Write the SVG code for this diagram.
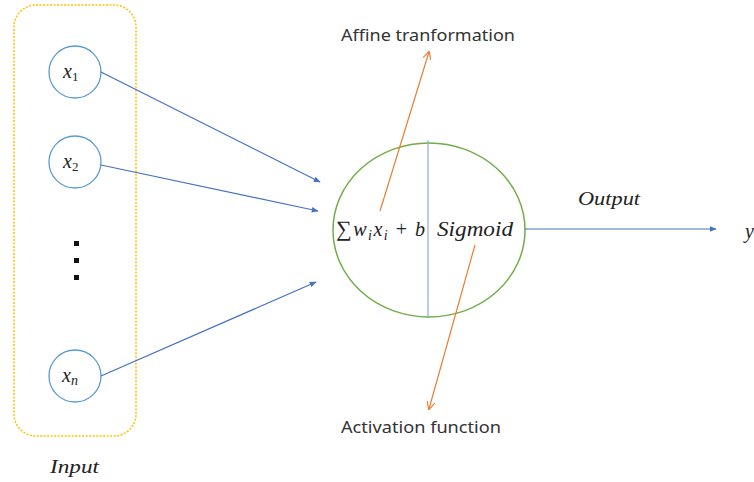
<svg xmlns="http://www.w3.org/2000/svg" width="754" height="482" viewBox="0 0 754 482">
<defs>
<marker id="ab" viewBox="0 0 10 10" refX="9" refY="5" markerWidth="7" markerHeight="7" markerUnits="userSpaceOnUse" orient="auto"><path d="M0,1 L10,5 L0,9 z" fill="#4472C4"/></marker>
<marker id="ao" viewBox="0 0 10 10" refX="9" refY="5" markerWidth="8" markerHeight="8" markerUnits="userSpaceOnUse" orient="auto"><path d="M0,0 L10,5 L0,10" fill="none" stroke="#ED7D31" stroke-width="1.5"/></marker>
<style>
.in{fill:#fff;stroke:#5B9BD5;stroke-width:1.3}
.m{font-family:"Liberation Serif",serif;font-style:italic;fill:#222}
.s{font-family:"Noto Sans","Liberation Sans",sans-serif;fill:#333;font-size:17px}
.bl{stroke:#4472C4;stroke-width:1.2;fill:none}
.or{stroke:#ED7D31;stroke-width:1.2;fill:none}
</style>
</defs>
<g id="input-box">
<rect x="14" y="5" width="122" height="431" rx="22" fill="none" stroke="#FFC000" stroke-width="1.5" stroke-dasharray="2,1.5"/>
<text class="m" x="50" y="473" font-size="18" textLength="49" lengthAdjust="spacingAndGlyphs">Input</text>
</g>
<g id="x1"><ellipse class="in" cx="75" cy="72" rx="26" ry="26"/><text class="m" x="63" y="78" font-size="20">x<tspan font-size="13" dy="3" font-style="normal">1</tspan></text></g>
<g id="x2"><ellipse class="in" cx="75" cy="162" rx="26" ry="26"/><text class="m" x="63" y="168" font-size="20">x<tspan font-size="13" dy="3" font-style="normal">2</tspan></text></g>
<g id="dots"><rect x="74" y="241" width="5" height="5" fill="#111"/><rect x="74" y="258" width="5" height="5" fill="#111"/><rect x="74" y="275" width="5" height="5" fill="#111"/></g>
<g id="xn"><ellipse class="in" cx="75" cy="376" rx="26" ry="26"/><text class="m" x="62" y="382" font-size="20">x<tspan font-size="14" dy="3">n</tspan></text></g>
<g id="neuron">
<ellipse cx="429" cy="230" rx="96" ry="87" fill="#fff" stroke="#70AD47" stroke-width="1.5"/>
<line x1="428" y1="140" x2="428" y2="318" stroke="#8FAADC" stroke-width="1.2"/>
<text class="m" x="336" y="236" font-size="20" textLength="89"><tspan font-style="normal" font-size="22">∑</tspan>w<tspan font-size="14" dy="4">i</tspan><tspan dy="-4">x</tspan><tspan font-size="14" dy="4">i</tspan><tspan dy="-4" font-style="normal"> + </tspan>b</text>
<text class="m" x="437" y="236" font-size="20" textLength="76" lengthAdjust="spacingAndGlyphs">Sigmoid</text>
</g>
<g id="labels">
<text class="s" x="341" y="41" textLength="174" lengthAdjust="spacingAndGlyphs">Affine tranformation</text>
<text class="s" x="341" y="433" textLength="160" lengthAdjust="spacingAndGlyphs">Activation function</text>
<text class="m" x="578" y="205" font-size="18" textLength="62" lengthAdjust="spacingAndGlyphs">Output</text>
<text class="m" x="745" y="238" font-size="20">y</text>
</g>
<g id="connectors">
<line class="bl" x1="101" y1="72" x2="320" y2="182" marker-end="url(#ab)"/>
<line class="bl" x1="101" y1="165" x2="318" y2="211" marker-end="url(#ab)"/>
<line class="bl" x1="101" y1="376" x2="316" y2="282" marker-end="url(#ab)"/>
<line class="bl" x1="525" y1="229" x2="716" y2="229" marker-end="url(#ab)"/>
<line class="or" x1="380" y1="211" x2="429" y2="52" marker-end="url(#ao)"/>
<line class="or" x1="475" y1="245" x2="429" y2="409" marker-end="url(#ao)"/>
</g>
</svg>
